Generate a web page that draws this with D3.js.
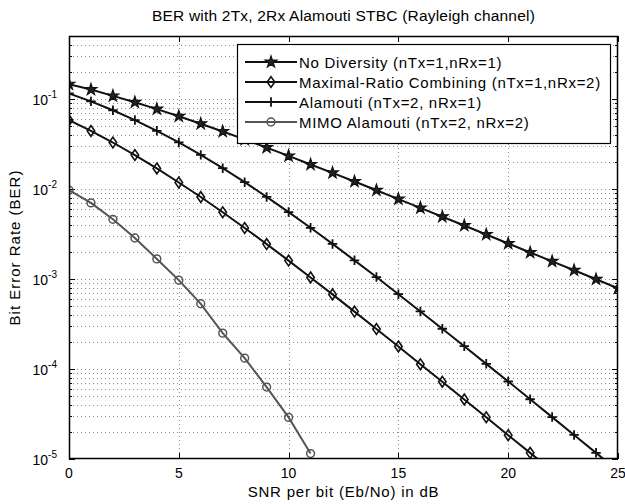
<!DOCTYPE html>
<html>
<head>
<meta charset="utf-8">
<script src="https://cdn.jsdelivr.net/npm/d3@7"></script>
<style>
	body { margin: 0; background: #fff; }
	svg { display: block; font-family: "Liberation Sans", Arial, Helvetica, sans-serif; }
</style>
</head>
<body>
<div id="chart"></div>
<script>
// Eb/No in dB (x) and BER values
const snrDb = [0, 1, 2, 3, 4, 5, 6, 7, 8, 9, 10, 11, 12, 13, 14, 15, 16, 17, 18, 19, 20, 21, 22, 23, 24, 25];

const berNoDiversity = [0.146, 0.127, 0.108, 0.0919, 0.0771, 0.0642, 0.0530, 0.0435, 0.0355, 0.0288,
	0.0233, 0.0187, 0.0151, 0.0121, 0.00967, 0.00772, 0.00616, 0.00491, 0.00392, 0.00312,
	0.00248, 0.00197, 0.00157, 0.00125, 0.000992, 0.000789];

const berMrc = [0.0581, 0.0441, 0.0328, 0.0238, 0.0169, 0.0118, 0.00813, 0.00551, 0.00368, 0.00244,
	0.00160, 0.00104, 0.000674, 0.000434, 0.000278, 0.000178, 0.000113, 7.22e-5, 4.59e-5, 2.91e-5,
	1.84e-5, 1.17e-5, 7.4e-6];

const berAlamouti = [0.115, 0.0939, 0.0748, 0.0582, 0.0442, 0.0329, 0.0239, 0.0170, 0.0119, 0.00816,
	0.00553, 0.00370, 0.00245, 0.00161, 0.00105, 0.000677, 0.000436, 0.000280, 0.000179, 0.000114,
	7.26e-5, 4.61e-5, 2.92e-5, 1.85e-5, 1.17e-5, 7.4e-6];

const berMimoAlamouti = [0.0097, 0.0070, 0.0046, 0.00285, 0.00167, 0.00097, 0.00053, 0.00025, 0.000132, 6.3e-5,
	2.9e-5, 1.15e-5];

const seriesNames = [
	"No Diversity (nTx=1,nRx=1)",
	"Maximal-Ratio Combining (nTx=1,nRx=2)",
	"Alamouti (nTx=2, nRx=1)",
	"MIMO Alamouti (nTx=2, nRx=2)"
];

const xTicks = [0, 5, 10, 15, 20, 25];
const yDecades = [-5, -4, -3, -2, -1];

const titleText = "BER with 2Tx, 2Rx Alamouti STBC (Rayleigh channel)";
const xLabelText = "SNR per bit (Eb/No) in dB";
const yLabelText = "Bit Error Rate (BER)";

{
	const width = 625, height = 504;
	const margin = { top: 36, right: 7, bottom: 45, left: 69 };

	// marker shapes in the MATLAB spirit
	const symPlus = {
		draw(ctx, size) {
			const r = Math.sqrt(size) / 2;
			ctx.moveTo(-r, 0); ctx.lineTo(r, 0);
			ctx.moveTo(0, -r); ctx.lineTo(0, r);
		}
	};
	const symDiamond = {
		draw(ctx, size) {
			const w = Math.sqrt(size) * 0.42, h = Math.sqrt(size) * 0.6;
			ctx.moveTo(0, -h); ctx.lineTo(w, 0); ctx.lineTo(0, h); ctx.lineTo(-w, 0); ctx.closePath();
		}
	};

	const series = [
		{ values: berNoDiversity, color: "#111", symbol: d3.symbolStar, size: 42, fill: "#222", mw: 1.2 },
		{ values: berMrc, color: "#111", symbol: symDiamond, size: 80, fill: "none", mw: 1.6 },
		{ values: berAlamouti, color: "#111", symbol: symPlus, size: 90, fill: "none", mw: 1.8 },
		{ values: berMimoAlamouti, color: "#555", symbol: d3.symbolCircle, size: 48, fill: "none", mw: 1.5 }
	];

	const svg = d3.select("#chart").append("svg")
		.attr("width", width)
		.attr("height", height);

	const x = d3.scaleLinear()
		.domain([0, 25])
		.range([margin.left, width - margin.right]);

	const y = d3.scaleLog()
		.domain([1e-5, 0.5])
		.range([height - margin.bottom, margin.top]);

	const [x0, x1] = x.range();
	const [y0, y1] = y.range();

	svg.append("defs").append("clipPath").attr("id", "plotclip")
		.append("rect")
		.attr("x", x0).attr("y", y1)
		.attr("width", x1 - x0).attr("height", y0 - y1);

	// minor + major log grid values
	let yGrid = [];
	for (let e = -5; e <= -1; e++)
		for (let m = 1; m <= 9; m++) {
			const v = m * Math.pow(10, e);
			if (v >= 1e-5 && v <= 0.5) yGrid.push(v);
		}

	const grid = svg.append("g").attr("class", "grid")
		.attr("stroke", "#000")
		.attr("stroke-opacity", 0.45)
		.attr("stroke-dasharray", "1,3");

	grid.selectAll("line.h").data(yGrid.filter(v => v > 1e-5 && v < 0.5))
		.enter().append("line")
			.attr("x1", x0).attr("x2", x1)
			.attr("y1", d => Math.round(y(d)) + 0.5)
			.attr("y2", d => Math.round(y(d)) + 0.5);

	grid.selectAll("line.v").data(xTicks.filter(d => d > 0 && d < 25))
		.enter().append("line")
			.attr("y1", y1).attr("y2", y0)
			.attr("x1", d => Math.round(x(d)) + 0.5)
			.attr("x2", d => Math.round(x(d)) + 0.5);

	// ticks pointing inward on all four sides
	const ticks = svg.append("g").attr("stroke", "#000").attr("stroke-width", 1);
	xTicks.forEach(d => {
		const px = Math.round(x(d)) + 0.5;
		ticks.append("line").attr("x1", px).attr("x2", px).attr("y1", y0).attr("y2", y0 - 6);
		ticks.append("line").attr("x1", px).attr("x2", px).attr("y1", y1).attr("y2", y1 + 6);
	});
	yGrid.forEach(v => {
		const py = Math.round(y(v)) + 0.5;
		const major = Math.abs(Math.log10(v) - Math.round(Math.log10(v))) < 1e-9;
		const len = major ? 6 : 3;
		ticks.append("line").attr("x1", x0).attr("x2", x0 + len).attr("y1", py).attr("y2", py);
		ticks.append("line").attr("x1", x1).attr("x2", x1 - len).attr("y1", py).attr("y2", py);
	});

	// curves
	const line = d3.line()
		.x((d, i) => x(snrDb[i]))
		.y(d => y(d));

	const plot = svg.append("g").attr("clip-path", "url(#plotclip)");

	series.forEach(s => {
		plot.append("path")
			.datum(s.values)
			.attr("d", line)
			.attr("fill", "none")
			.attr("stroke", s.color)
			.attr("stroke-width", 2);

		plot.selectAll(null)
			.data(s.values.filter(v => v >= 1e-5))
			.enter().append("path")
				.attr("transform", (d, i) => `translate(${x(snrDb[i])},${y(d)})`)
				.attr("d", d3.symbol().type(s.symbol).size(s.size))
				.attr("fill", s.fill)
				.attr("stroke", s.color)
				.attr("stroke-width", s.mw);
	});

	// axes box
	svg.append("rect")
		.attr("x", x0 + 0.5).attr("y", y1 + 0.5)
		.attr("width", x1 - x0 - 1).attr("height", y0 - y1 - 1)
		.attr("fill", "none")
		.attr("stroke", "#000")
		.attr("stroke-width", 1.5);

	// tick labels
	svg.append("g").selectAll("text")
		.data(xTicks)
		.enter().append("text")
			.attr("x", d => x(d))
			.attr("y", y0 + 19)
			.attr("text-anchor", "middle")
			.attr("font-size", 14)
			.text(d => d);

	const yLab = svg.append("g").selectAll("text")
		.data(yDecades)
		.enter().append("text")
			.attr("x", x0 - 12)
			.attr("y", d => y(Math.pow(10, d)) + 6)
			.attr("text-anchor", "end")
			.attr("font-size", 14);
	yLab.append("tspan").text("10");
	yLab.append("tspan")
		.attr("dy", -7)
		.attr("font-size", 10)
		.text(d => "-" + Math.abs(d));

	// title and axis labels
	svg.append("text")
		.attr("x", (x0 + x1) / 2)
		.attr("y", 21)
		.attr("text-anchor", "middle")
		.attr("font-size", 15.5)
		.attr("letter-spacing", 0.2)
		.text(titleText);

	svg.append("text")
		.attr("x", (x0 + x1) / 2)
		.attr("y", 497)
		.attr("text-anchor", "middle")
		.attr("font-size", 15)
		.attr("letter-spacing", 0.8)
		.text(xLabelText);

	svg.append("text")
		.attr("transform", `translate(20,${(y0 + y1) / 2}) rotate(-90)`)
		.attr("text-anchor", "middle")
		.attr("font-size", 15)
		.attr("letter-spacing", 1)
		.text(yLabelText);

	// legend
	const legend = svg.append("g").attr("transform", "translate(237,44)");
	legend.append("rect")
		.attr("x", 0.5).attr("y", 0.5)
		.attr("width", 373).attr("height", 99)
		.attr("fill", "#fff")
		.attr("stroke", "#000")
		.attr("stroke-width", 1.2);

	const rows = legend.selectAll("g.row")
		.data(series)
		.enter().append("g")
			.attr("transform", (d, i) => `translate(0,${18 + i * 20})`);

	rows.append("line")
		.attr("x1", 8).attr("x2", 60)
		.attr("stroke", d => d.color)
		.attr("stroke-width", 2);
	rows.append("path")
		.attr("transform", "translate(34,0)")
		.attr("d", d => d3.symbol().type(d.symbol).size(d.size)())
		.attr("fill", d => d.fill)
		.attr("stroke", d => d.color)
		.attr("stroke-width", d => d.mw);
	rows.append("text")
		.attr("x", 62)
		.attr("y", 5.5)
		.attr("font-size", 15)
		.attr("letter-spacing", 0.7)
		.text((d, i) => seriesNames[i]);
}
</script>
</body>
</html>
